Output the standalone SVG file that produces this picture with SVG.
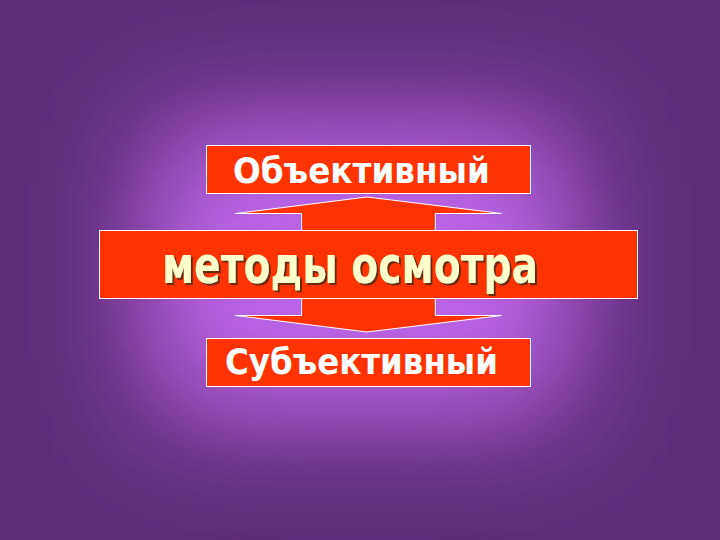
<svg xmlns="http://www.w3.org/2000/svg" width="720" height="540" viewBox="0 0 720 540">
  <defs>
    <filter id="glow" x="-1" y="-1" width="3" height="3">
      <feGaussianBlur stdDeviation="60"/>
    </filter>
    <filter id="shadow" x="-0.1" y="-0.3" width="1.2" height="1.6">
      <feOffset dx="2" dy="2" in="SourceAlpha" result="o"/>
      <feFlood flood-color="#6b2a10"/>
      <feComposite in2="o" operator="in" result="s"/>
      <feMerge><feMergeNode in="s"/><feMergeNode in="SourceGraphic"/></feMerge>
    </filter>
  </defs>
  <style>
    .box { fill: #ff3300; stroke: #ffffff; stroke-width: 1; }
    .arrow { fill: #ff3300; stroke: #ffffff; stroke-width: 1; stroke-linejoin: miter; }
    .lbl { font-family: "DejaVu Sans", Verdana, sans-serif; font-weight: bold; fill: #ffffff; }
    .main { font-family: "DejaVu Sans", Verdana, sans-serif; font-weight: bold; fill: #ffffcc; }
  </style>
  <rect x="0" y="0" width="720" height="540" fill="#5e2c78"/>
  <rect x="150" y="125" width="420" height="290" fill="#c066ea" filter="url(#glow)"/>
  <rect x="220" y="190" width="280" height="160" fill="#b660e2" opacity="0.6" filter="url(#glow)"/>

  <g id="connectors">
    <path class="arrow" d="M367,197 L501.5,213.5 L435.3,213.5 L435.3,231 L301.6,231 L301.6,213.5 L235.5,213.5 Z"/>
    <path class="arrow" d="M301.6,297 L435.3,297 L435.3,315.5 L501.5,315.5 L367,332 L235.5,315.5 L301.6,315.5 Z"/>
  </g>

  <g id="node-objective">
    <rect class="box" x="206.5" y="145.5" width="324" height="48"/>
    <text class="lbl" x="233" y="183" font-size="35" textLength="257" lengthAdjust="spacingAndGlyphs">Объективный</text>
  </g>

  <g id="node-methods">
    <rect class="box" x="99.5" y="230.5" width="538" height="68"/>
    <text class="main" x="162" y="283" font-size="51" textLength="376" lengthAdjust="spacingAndGlyphs" filter="url(#shadow)">методы осмотра</text>
  </g>

  <g id="node-subjective">
    <rect class="box" x="206.5" y="338.5" width="324" height="48"/>
    <text class="lbl" x="225" y="374" font-size="35" textLength="273" lengthAdjust="spacingAndGlyphs">Субъективный</text>
  </g>
</svg>
